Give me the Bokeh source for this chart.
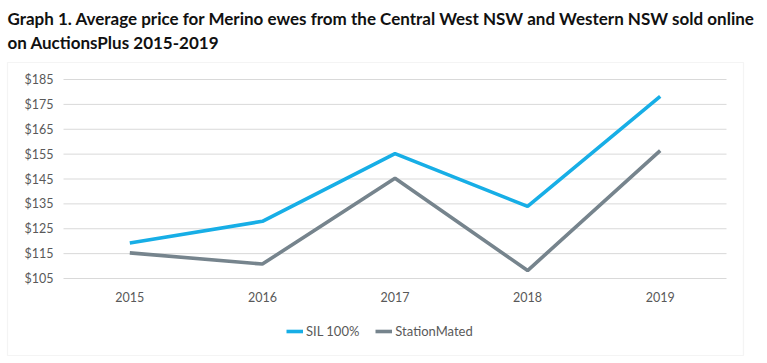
from bokeh.plotting import figure
from bokeh.models import Range1d, Legend, LegendItem, BoxAnnotation
from bokeh.core.properties import value
from bokeh.embed import file_html
from bokeh.resources import INLINE

years = ["2015", "2016", "2017", "2018", "2019"]
sil_100 = [119.3, 128.0, 155.2, 134.0, 178.2]
station_mated = [115.3, 110.8, 145.3, 108.2, 156.4]
y_ticks = [105, 115, 125, 135, 145, 155, 165, 175, 185]
y_tick_labels = ["$105", "$115", "$125", "$135", "$145", "$155", "$165", "$175", "$185"]
title_lines = ["Graph 1. Average price for Merino ewes from the Central West NSW and Western NSW sold online",
               "on AuctionsPlus 2015-2019"]
series_names = ["SIL 100%", "StationMated"]

FONT = "Lato"
W, H = 767, 363
# plot-area geometry in pixels (left, right, top, bottom)
PX_L, PX_R, PX_T, PX_B = 63, 726, 79, 278
n = len(years)
sx = (PX_R - PX_L) / n
x_start = -0.5 - PX_L / sx
x_end = n - 0.5 + (W - PX_R) / sx
ymin, ymax = y_ticks[0], y_ticks[-1]
sy = (PX_B - PX_T) / (ymax - ymin)
y_start = ymin - (H - PX_B) / sy
y_end = ymax + PX_T / sy

p = figure(width=W, height=H, x_range=Range1d(x_start, x_end), y_range=Range1d(y_start, y_end),
           output_backend="svg", toolbar_location=None, x_axis_type=None, y_axis_type=None,
           min_border=0)
p.outline_line_color = None
p.grid.visible = False
p.background_fill_color = "white"
p.border_fill_color = "white"

xi = list(range(n))

# outer chart box
p.add_layout(BoxAnnotation(left=x_start + 7 / sx, right=x_start + 743 / sx,
                           top=y_end - 62 / sy, bottom=y_end - 355 / sy,
                           fill_alpha=0, line_color="#d9d9d9", line_width=1.2))

# horizontal gridlines
p.segment(x0=[-0.5] * len(y_ticks), x1=[n - 0.5] * len(y_ticks), y0=y_ticks, y1=y_ticks,
          line_color="#d9d9d9", line_width=1)

# y tick labels
p.text(x=[-0.5] * len(y_ticks), y=y_ticks, text=y_tick_labels, x_offset=-10,
       text_align="right", text_baseline="middle", text_font=value(FONT),
       text_font_size=value("12.5px"), text_color="#595959")
# x tick labels
p.text(x=xi, y=[ymin] * n, text=years, y_offset=18, text_align="center",
       text_baseline="middle", text_font=value(FONT), text_font_size=value("12.5px"),
       text_color="#595959")

r1 = p.line(xi, sil_100, line_color="#17AEE6", line_width=3.6)
r2 = p.line(xi, station_mated, line_color="#76848D", line_width=3.6)

# title
for i, txt in enumerate(title_lines):
    p.text(x=[x_start], y=[y_end], text=[txt], x_offset=7, y_offset=17.5 + 24.5 * i,
           text_align="left", text_baseline="alphabetic", text_font=value(FONT),
           text_font_size=value("17px"), text_font_style="bold", text_color="#111111")

legend = Legend(items=[LegendItem(label=series_names[0], renderers=[r1]),
                       LegendItem(label=series_names[1], renderers=[r2])],
                orientation="horizontal", location=(286, 24),
                label_text_font=FONT, label_text_font_size="13px", label_text_color="#595959",
                glyph_width=17, glyph_height=14, label_height=14, label_standoff=3, spacing=16,
                border_line_color=None, background_fill_alpha=0, padding=0, margin=0)
p.add_layout(legend, "center")

open("out.html", "w").write(file_html(p, INLINE))
